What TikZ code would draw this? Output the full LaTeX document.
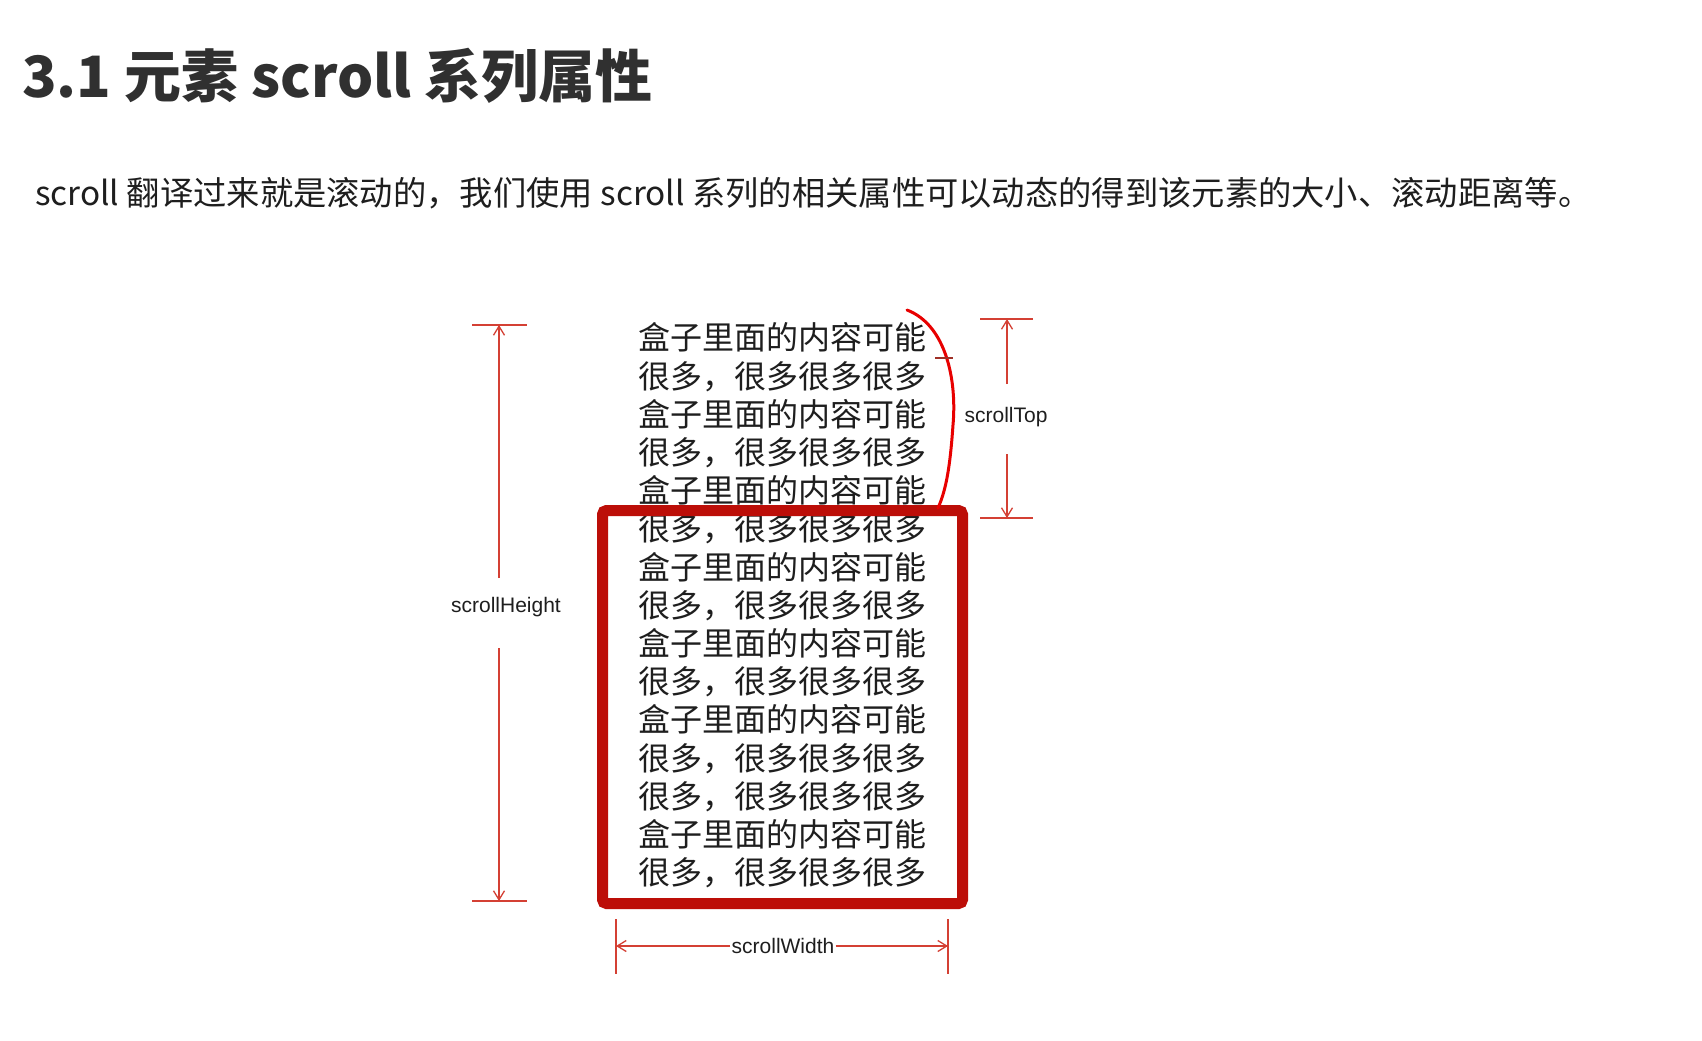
\documentclass[tikz,border=0pt]{standalone}
\usepackage{fontspec}
\setmainfont{Liberation Sans}
\newfontfamily\cjk{Noto Sans CJK SC}
\usetikzlibrary{arrows.meta}
\definecolor{boxred}{RGB}{188,14,8}
\definecolor{dimred}{RGB}{212,64,52}
\definecolor{curvered}{RGB}{232,0,0}
\definecolor{titlegray}{RGB}{48,48,48}
\definecolor{bodygray}{RGB}{30,30,30}
\newcommand\lineA{盒子里面的内容可能}
\newcommand\lineB{很多，很多很多很多}
\begin{document}
\begin{tikzpicture}[x=1pt,y=-1pt,
  dimline/.style={draw=dimred, line width=1.3pt},
  dimarrow/.style={dimline, -{Straight Barb[length=9pt,width=11pt,line width=1.3pt]}},
  dimlabel/.style={font=\fontsize{21}{24}\selectfont, text=bodygray, inner sep=1pt},
  boxline/.style={font=\cjk\fontsize{32}{38}\selectfont, text=bodygray, inner sep=0pt, anchor=west, text height=0.8em, text depth=0.12em},
]
\useasboundingbox[fill=white] (0,0) rectangle (1702,1041);

% heading and intro
\node[anchor=west, inner sep=0pt, font=\cjk\bfseries\fontsize{57}{64}\selectfont, text=titlegray] (title) at (22,76) {3.1 元素 scroll 系列属性};
\node[anchor=west, inner sep=0pt, font=\cjk\fontsize{33.3}{40}\selectfont, text=bodygray] (intro) at (35,193) {scroll 翻译过来就是滚动的，我们使用 scroll 系列的相关属性可以动态的得到该元素的大小、滚动距离等。};

% content lines
\foreach \s [count=\i] in {\lineA,\lineB,\lineA,\lineB,\lineA,\lineB,\lineA,\lineB,\lineA,\lineB,\lineA,\lineB,\lineB,\lineA,\lineB}
  \node[boxline] (line\i) at (638,{346.5+38.2*(\i-1)}) {\s};

% visible box
\node[draw=boxred, line width=11pt, rounded corners=4pt, minimum width=360pt, minimum height=393pt, inner sep=0pt] (viewport) at (782.5,707) {};

% scrolled-away curve
\coordinate (cv-top) at (907,310);
\coordinate (cv-bot) at (938,508);
\draw[curvered, line width=3pt, line cap=round] (cv-top) .. controls (946,325) and (957,380) .. (953,425) .. controls (950,468) and (946,490) .. (cv-bot);
\coordinate (cv-tick) at (944,358);
\draw[dimred!75!black, line width=2pt] ([xshift=-9pt]cv-tick) -- ([xshift=9pt]cv-tick);

% scrollHeight
\coordinate (sh-top) at (499,325);
\coordinate (sh-bot) at (499,901);
\coordinate (sh-a) at (499,578);
\coordinate (sh-b) at (499,648);
\node[dimlabel] (shlabel) at (506,607) {scrollHeight};
\draw[dimline] ([xshift=-27pt]sh-top) -- ([xshift=28pt]sh-top);
\draw[dimline] ([xshift=-27pt]sh-bot) -- ([xshift=28pt]sh-bot);
\draw[dimarrow] (sh-a) -- (sh-top);
\draw[dimarrow] (sh-b) -- (sh-bot);

% scrollTop
\coordinate (st-top) at (1007,319);
\coordinate (st-bot) at (1007,518);
\coordinate (st-a) at (1007,384);
\coordinate (st-b) at (1007,454);
\node[dimlabel] (stlabel) at (1006,417) {scrollTop};
\draw[dimline] ([xshift=-27pt]st-top) -- ([xshift=26pt]st-top);
\draw[dimline] ([xshift=-27pt]st-bot) -- ([xshift=26pt]st-bot);
\draw[dimarrow] (st-a) -- (st-top);
\draw[dimarrow] (st-b) -- (st-bot);

% scrollWidth
\coordinate (sw-l) at (616,946);
\coordinate (sw-r) at (948,946);
\node[dimlabel] (swlabel) at (783,946) {scrollWidth};
\draw[dimline] ([yshift=27pt]sw-l) -- ([yshift=-28pt]sw-l);
\draw[dimline] ([yshift=27pt]sw-r) -- ([yshift=-28pt]sw-r);
\draw[dimarrow] (swlabel.west) -- (sw-l);
\draw[dimarrow] (swlabel.east) -- (sw-r);
\end{tikzpicture}
\end{document}
